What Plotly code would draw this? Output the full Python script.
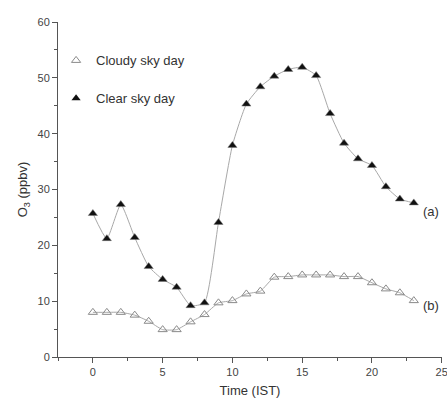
import plotly.graph_objects as go

hours = list(range(24))
clear_sky = [25.7, 21.2, 27.3, 21.4, 16.2, 13.9, 12.5, 9.2, 9.7, 24.1, 37.9, 45.3,
             48.4, 50.3, 51.5, 51.9, 50.4, 43.6, 38.3, 35.5, 34.3, 30.5, 28.3, 27.6]
cloudy_sky = [8.0, 8.0, 8.0, 7.5, 6.4, 4.9, 4.9, 6.3, 7.6, 9.7, 10.1, 11.3,
              11.8, 14.3, 14.4, 14.7, 14.7, 14.7, 14.4, 14.4, 13.3, 12.2, 11.5, 10.1]
series_names = ["Cloudy sky day", "Clear sky day"]
curve_labels = ["(a)", "(b)"]
x_ticks = [0, 5, 10, 15, 20, 25]

font = "Liberation Sans, Arial, sans-serif"
line_col = "#a8a8a8"

fig = go.Figure()
fig.add_trace(go.Scatter(
    x=hours, y=cloudy_sky, mode="lines+markers", showlegend=False,
    line=dict(color=line_col, width=1, shape="spline", smoothing=0.5),
    marker=dict(symbol="triangle-up-open", size=8, color="#8a8a8a", line=dict(width=1))))
fig.add_trace(go.Scatter(
    x=hours, y=clear_sky, mode="lines+markers", showlegend=False,
    line=dict(color=line_col, width=1, shape="spline", smoothing=0.5),
    marker=dict(symbol="triangle-up", size=8, color="#111111",
                line=dict(color="#777777", width=0.5))))
# legend-only entries (markers only, as in the reference)
fig.add_trace(go.Scatter(
    x=[None], y=[None], mode="markers", name=series_names[0], legendgroup="a",
    marker=dict(symbol="triangle-up-open", size=8, color="#8a8a8a")))
fig.add_trace(go.Scatter(
    x=[None], y=[None], mode="markers", name=series_names[1], legendgroup="b",
    marker=dict(symbol="triangle-up", size=8, color="#111111")))

fig.add_annotation(x=hours[-1], y=clear_sky[-1], text=curve_labels[0], showarrow=False,
                   xanchor="left", yanchor="middle", xshift=7, yshift=-9,
                   font=dict(family=font, size=13, color="#333"))
fig.add_annotation(x=hours[-1], y=cloudy_sky[-1], text=curve_labels[1], showarrow=False,
                   xanchor="left", yanchor="middle", xshift=7, yshift=-5,
                   font=dict(family=font, size=13, color="#333"))

axis_common = dict(showgrid=False, zeroline=False, showline=True, linecolor="#555",
                   linewidth=1, ticks="outside", tickcolor="#555", ticklen=5,
                   automargin=False, ticklabeloverflow="allow",
                   tickfont=dict(family=font, size=11, color="#444"))

fig.update_layout(
    width=447, height=406,
    margin=dict(l=58, r=5, t=22, b=49, autoexpand=False),
    paper_bgcolor="white", plot_bgcolor="white",
    font=dict(family=font, color="#333"),
    xaxis=dict(range=[-2.5, 25.02], tickmode="array", tickvals=x_ticks,
               minor=dict(dtick=2.5, tick0=0, ticklen=3, ticks="outside", tickcolor="#555"),
               title=dict(text="Time (IST)", font=dict(family=font, size=13, color="#333"),
                          standoff=8),
               **axis_common),
    yaxis=dict(range=[0, 60], dtick=10,
               minor=dict(dtick=5, ticklen=3, ticks="outside", tickcolor="#555"),
               title=dict(text="O<sub>3</sub> (ppbv)", font=dict(family=font, size=13, color="#333"),
                          standoff=6),
               **axis_common),
    legend=dict(x=-0.005, y=0.93, xanchor="left", yanchor="top", bgcolor="rgba(0,0,0,0)",
                font=dict(family=font, size=13, color="#333"), tracegroupgap=18,
                itemwidth=30),
)

# remove the browser's default 8px body margin so the 447x406 figure fills the window
fig.write_html("out.html", config={"displayModeBar": False},
               post_script="document.body.style.margin='0';document.body.style.overflow='hidden';")
